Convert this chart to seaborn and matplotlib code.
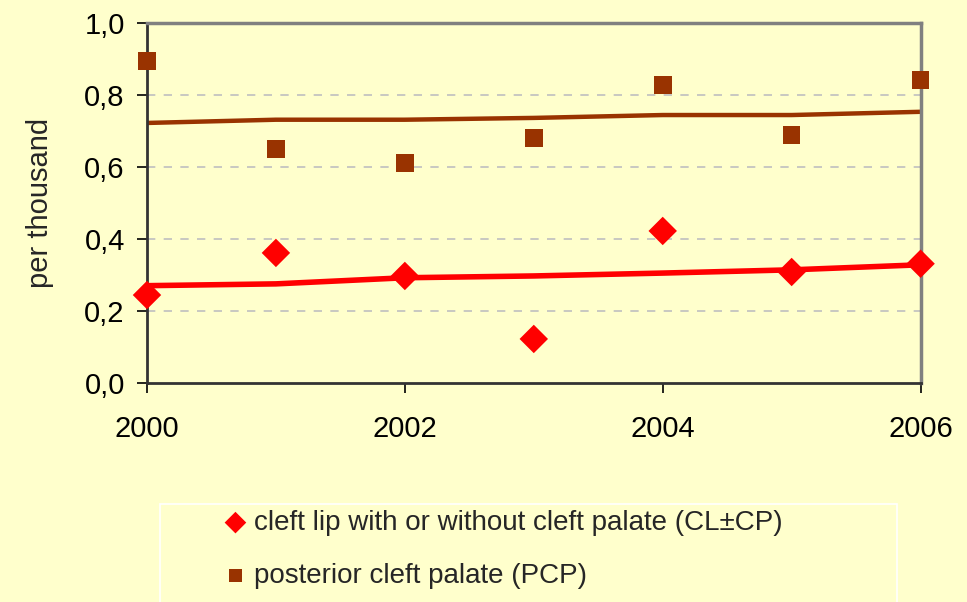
import numpy as np
import pandas as pd
import matplotlib
matplotlib.use("Agg")
import matplotlib.pyplot as plt
from matplotlib.patches import Rectangle
import seaborn as sns

years = [2000, 2001, 2002, 2003, 2004, 2005, 2006]
cl_cp = [0.244, 0.361, 0.297, 0.122, 0.422, 0.308, 0.331]
cl_cp_trend = [0.270, 0.275, 0.292, 0.297, 0.305, 0.314, 0.328]
pcp = [0.894, 0.650, 0.611, 0.680, 0.828, 0.689, 0.842]
pcp_trend = [0.722, 0.731, 0.731, 0.736, 0.744, 0.744, 0.753]

x_ticks = [2000, 2002, 2004, 2006]
y_ticks = [0.0, 0.2, 0.4, 0.6, 0.8, 1.0]
y_tick_labels = ["0,0", "0,2", "0,4", "0,6", "0,8", "1,0"]

label_cl = "cleft lip with or without cleft palate (CL\u00b1CP)"
label_pcp = "posterior cleft palate (PCP)"

bg = "#FFFFCC"
red = "#FF0000"
brown = "#993300"

df_cl = pd.DataFrame({"year": years, "rate": cl_cp, "trend": cl_cp_trend})
df_pcp = pd.DataFrame({"year": years, "rate": pcp, "trend": pcp_trend})

sns.set_style("white")
plt.rcParams["font.family"] = ["Liberation Sans", "DejaVu Sans"]

fig = plt.figure(figsize=(9.67, 6.02), dpi=100, facecolor=bg)
ax = fig.add_axes([0.152, 0.364, 0.8, 0.598])
ax.set_facecolor(bg)

# trend lines
sns.lineplot(data=df_pcp, x="year", y="trend", color=brown, linewidth=3.2, ax=ax,
             legend=False, zorder=2)
sns.lineplot(data=df_cl, x="year", y="trend", color=red, linewidth=4.0, ax=ax,
             legend=False, zorder=2)

# observed values
sns.scatterplot(data=df_cl, x="year", y="rate", marker="D", s=210, color=red,
                edgecolor="none", ax=ax, label=label_cl, zorder=3, clip_on=False)
sns.scatterplot(data=df_pcp, x="year", y="rate", marker="s", s=160, color=brown,
                edgecolor="none", ax=ax, label=label_pcp, zorder=3, clip_on=False)

ax.set_xlim(2000, 2006)
ax.set_ylim(0, 1.0)
ax.set_xticks(x_ticks)
ax.set_xticklabels([str(y) for y in x_ticks])
ax.set_yticks(y_ticks)
ax.set_yticklabels(y_tick_labels)
ax.tick_params(axis="both", labelsize=21, colors="black", direction="out",
               length=7, width=1.2, bottom=True, left=True)
ax.tick_params(axis="x", pad=16)
ax.tick_params(axis="y", pad=9)
ax.set_xlabel("")
ax.set_ylabel("per thousand", fontsize=21, labelpad=22)

for y in y_ticks[1:-1]:
    ax.axhline(y, color="#BFBFBF", linestyle=(0, (5, 5)), linewidth=1.2, zorder=1)

for side in ["left", "bottom"]:
    ax.spines[side].set_color("#333333")
    ax.spines[side].set_linewidth(2)
for side in ["top", "right"]:
    ax.spines[side].set_visible(True)
    ax.spines[side].set_color("#808080")
    ax.spines[side].set_linewidth(2.5)

# legend box
fig.patches.append(Rectangle((0.1655, -0.02), 0.762, 0.183, transform=fig.transFigure,
                             facecolor=bg, edgecolor="white", linewidth=1.2))

handles, labels = ax.get_legend_handles_labels()
ax.get_legend().remove()
leg = fig.legend(handles, labels, loc="upper left",
                 bbox_to_anchor=(0.232, 0.153), frameon=False, fontsize=20,
                 handletextpad=0.25, borderpad=0, labelspacing=0.97,
                 borderaxespad=0, handlelength=0.8, markerscale=0.76)

fig.savefig("out.png", dpi=100, facecolor=bg)
